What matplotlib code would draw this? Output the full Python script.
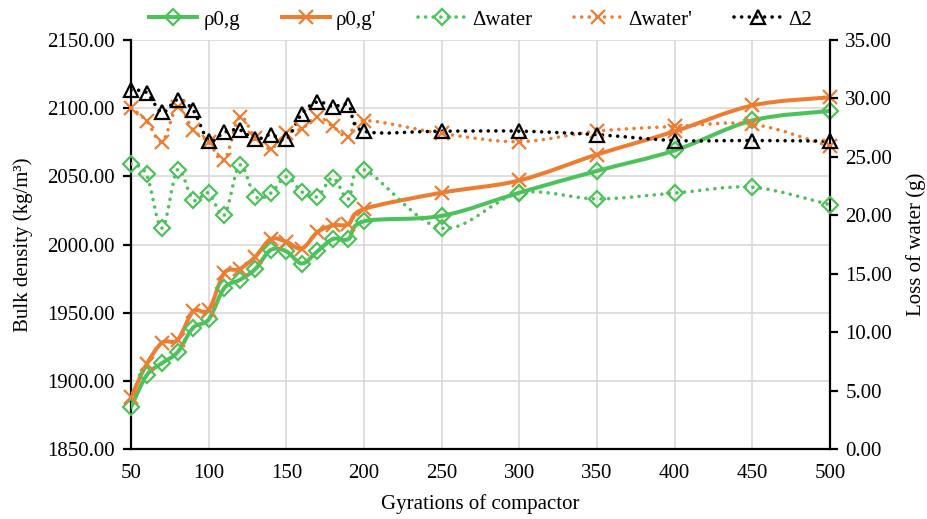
import numpy as np
import matplotlib
matplotlib.use("Agg")
import matplotlib.pyplot as plt
from matplotlib.path import Path
from matplotlib.patches import PathPatch
from matplotlib.lines import Line2D

plt.rcParams["font.family"] = ["Liberation Serif", "DejaVu Serif"]

# data
gyrations = [50, 60, 70, 80, 90, 100, 110, 120, 130, 140, 150, 160, 170, 180, 190,
             200, 250, 300, 350, 400, 450, 500]
rho_g = [1880.5, 1904, 1913, 1921, 1939, 1945, 1968, 1974, 1982, 1996, 1995, 1986,
         1995, 2004, 2004, 2017, 2021, 2038, 2054, 2069, 2091, 2098]
rho_g2 = [1888, 1912, 1928, 1930, 1951, 1952, 1979, 1982, 1991, 2004, 2002, 1997,
          2009, 2014, 2015, 2026, 2038, 2047, 2066, 2083, 2102, 2108]
d_water = [24.4, 23.5, 18.9, 23.9, 21.3, 21.9, 20.0, 24.3, 21.6, 21.9, 23.3, 22.0,
           21.6, 23.2, 21.4, 23.9, 18.9, 21.9, 21.4, 21.9, 22.4, 20.9]
d_water2 = [29.2, 28.1, 26.3, 29.3, 27.3, 26.3, 24.7, 28.4, 26.6, 25.7, 27.0, 27.4,
            28.4, 27.6, 26.7, 28.1, 27.0, 26.3, 27.2, 27.6, 27.8, 25.9]
d2 = [30.7, 30.5, 28.8, 29.9, 29.0, 26.4, 27.1, 27.3, 26.5, 26.9, 26.5, 28.7,
      29.7, 29.3, 29.4, 27.2, 27.2, 27.2, 26.9, 26.4, 26.4, 26.35]

GREEN = "#4DC25A"
ORANGE = "#ED7D31"
DOT = (0, (0.01, 2.1))
FS = 15


def smooth_path(xs, ys):
    # Excel-style smoothed line as cubic bezier segments
    p = np.column_stack([xs, ys]).astype(float)
    n = len(p)
    verts = [p[0]]
    codes = [Path.MOVETO]
    for i in range(n - 1):
        p0 = p[i - 1] if i > 0 else p[i]
        p3 = p[i + 2] if i + 2 < n else p[i + 1]
        c1 = p[i] + (p[i + 1] - p0) / 6
        c2 = p[i + 1] - (p3 - p[i]) / 6
        verts += [c1, c2, p[i + 1]]
        codes += [Path.CURVE4] * 3
    return Path(verts, codes)


def draw(ax, ys, color, ls, lw, marker, ms, z):
    patch = PathPatch(smooth_path(gyrations, ys), facecolor="none", edgecolor=color,
                      lw=lw, linestyle=ls, capstyle="round", joinstyle="round", zorder=z)
    ax.add_patch(patch)
    ax.plot(gyrations, ys, linestyle="none", marker=marker, ms=ms, mfc="none",
            mec=color, mew=1.6, zorder=z + 0.1, clip_on=False)
    return Line2D([], [], color=color, lw=lw, linestyle=ls, dash_capstyle="round",
                  marker=marker, ms=ms, mfc="none", mec=color, mew=1.6)


fig = plt.figure(figsize=(9.27, 5.19), dpi=100)
ax = fig.add_axes([0.1413, 0.1349, 0.7541, 0.788])
ax2 = ax.twinx()

h1 = draw(ax, rho_g, GREEN, "-", 2.9, "D", 8.5, 3)
h2 = draw(ax, rho_g2, ORANGE, "-", 2.9, "x", 10.5, 3)
h3 = draw(ax2, d_water, GREEN, DOT, 2.6, "D", 8.5, 3)
h4 = draw(ax2, d_water2, ORANGE, DOT, 2.6, "x", 10.5, 3)
h5 = draw(ax2, d2, "black", DOT, 2.6, "^", 10.5, 3)

ax.set_xlim(50, 500)
ax.set_ylim(1850, 2150)
ax2.set_ylim(0, 35)
ax.set_xticks(range(50, 501, 50))
ax.set_yticks(range(1850, 2151, 50))
ax2.set_yticks(range(0, 36, 5))
ax.yaxis.set_major_formatter(lambda v, pos: f"{v:.2f}")
ax2.yaxis.set_major_formatter(lambda v, pos: f"{v:.2f}")

ax.grid(True, color="#D9D9D9", lw=1.2)
ax.set_axisbelow(True)
for a in (ax, ax2):
    a.spines["top"].set_visible(False)
    for s in ("left", "right", "bottom"):
        a.spines[s].set_linewidth(1.6)
        a.spines[s].set_color("black")
ax.spines["right"].set_visible(False)
ax2.spines["left"].set_visible(False)
ax2.spines["bottom"].set_visible(False)

ax.tick_params(axis="y", direction="out", length=6, width=1.6, labelsize=FS, pad=6)
ax.tick_params(axis="x", length=0, labelsize=FS, pad=11)
ax2.tick_params(axis="y", direction="out", length=6, width=1.6, labelsize=FS, pad=5)

ax.set_xlabel("Gyrations of compactor", fontsize=FS, labelpad=8)
ax.set_ylabel("Bulk density (kg/m³)", fontsize=FS, labelpad=10)
ax2.set_ylabel("Loss of water (g)", fontsize=FS, labelpad=10)

ax.legend([h1, h2, h3, h4, h5], ["ρ0,g", "ρ0,g'", "Δwater", "Δwater'", "Δ2"],
          loc="lower center", bbox_to_anchor=(0.5, 0.995), ncol=5, frameon=False,
          fontsize=FS, handlelength=2.3, columnspacing=2.0, handletextpad=0.3,
          borderaxespad=0.2)

fig.savefig("out.png", dpi=100)
